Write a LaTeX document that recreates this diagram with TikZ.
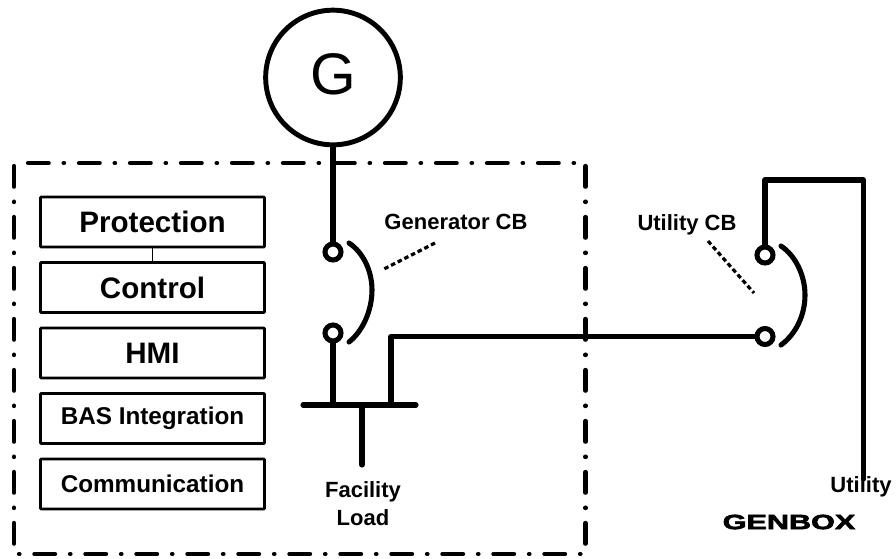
\documentclass[tikz,border=0pt]{standalone}
\usepackage{fontspec}
\setmainfont{Liberation Sans}
\newfontfamily\heavyfont[FakeBold=2.5]{Liberation Sans Bold}
\begin{document}
\begin{tikzpicture}[x=0.75pt,y=-0.75pt,
  wire/.style={line width=3.8pt,line cap=round,line join=round},
  breaker/.style={circle,draw,line width=3.8pt,minimum size=12pt,inner sep=0pt,fill=white},
  modbox/.style={draw,line width=1.9pt,minimum width=168pt,minimum height=37.5pt,inner sep=0pt,rounded corners=0.5pt},
  bigtxt/.style={font=\bfseries\fontsize{22.2}{26}\selectfont},
  smalltxt/.style={font=\bfseries\fontsize{18.2}{22}\selectfont},
  lbl/.style={font=\bfseries\fontsize{16.5}{21}\selectfont,align=center,inner sep=0pt},
  frame/.style={line width=3.2pt,line cap=round,dash pattern=on 15.5pt off 11.2pt on 0.35pt off 11.2pt},
  framedot/.style={line width=3.2pt,line cap=round,dash pattern=on 0.35pt off 11.2pt on 15.5pt off 11.2pt},
  leader/.style={line width=2.4pt,dash pattern=on 3.4pt off 2.2pt}]
\useasboundingbox (0,0) rectangle (896,558);
\draw[frame] (28,163) -- (575,163);
\draw[frame] (585.5,166) -- (585.5,544);
\draw[framedot] (19,554) -- (582,554);
\draw[frame] (14,166) -- (14,544);
\node[modbox,bigtxt] (prot) at (152.5,222) {Protection};
\node[modbox,bigtxt] (ctrl) at (152.5,287.5) {Control};
\node[modbox,bigtxt] (hmi) at (152.5,353) {HMI};
\node[modbox,smalltxt] (bas) at (152.5,418.5) {BAS Integration};
\node[modbox,smalltxt] (comm) at (152.5,484) {Communication};
\draw[line width=0.5pt] (prot) -- (ctrl);
\node[circle,draw,line width=3.7pt,minimum size=101pt,inner sep=0pt] (gen) at (333,77.5) {};
\node[inner sep=0pt,font=\fontsize{44}{50}\selectfont] (gtxt) at (333,74.5) {G};
\node[breaker] (g1) at (333,252) {};
\node[breaker] (g2) at (333,333) {};
\node[breaker] (u1) at (765,255) {};
\node[breaker] (u2) at (765,336.5) {};
\coordinate (busL) at (303,405);
\coordinate (busR) at (416,405);
\coordinate (busA) at (333,405);
\coordinate (busB) at (391,405);
\coordinate (busC) at (362,405);
\coordinate (loadEnd) at (362,465);
\coordinate (utilEnd) at (863.5,479);
\draw[wire] (gen) -- (g1);
\draw[wire] (g2) -- (busA);
\draw[wire] (busL) -- (busR);
\draw[wire] (busC) -- (loadEnd);
\draw[wire] (busB) -- (391,336.5) -- (u2);
\draw[wire] (u1) -- (765,180) -- (863.5,180) -- (utilEnd);
\draw[wire] (349,243) .. controls (364,253) and (372,272) .. (372,290) .. controls (372,310) and (363,331) .. (349,342);
\draw[wire] (781,246) .. controls (796,256) and (805,276) .. (805,295) .. controls (805,315) and (796,334) .. (781,345);
\draw[leader] (435,243) -- (382,270);
\draw[leader] (708,241) -- (754,293);
\node[lbl] (gcb) at (456,222) {Generator CB};
\node[lbl] (ucb) at (687,225) {Utility CB};
\node[lbl] (load) at (363,504) {Facility\\Load};
\node[lbl] (util) at (861,487) {Utility};
\node[inner sep=0pt,xscale=1.48,font=\heavyfont\fontsize{15.5}{18}\selectfont] (genbox) at (789,522) {GENBOX};
\end{tikzpicture}
\end{document}
